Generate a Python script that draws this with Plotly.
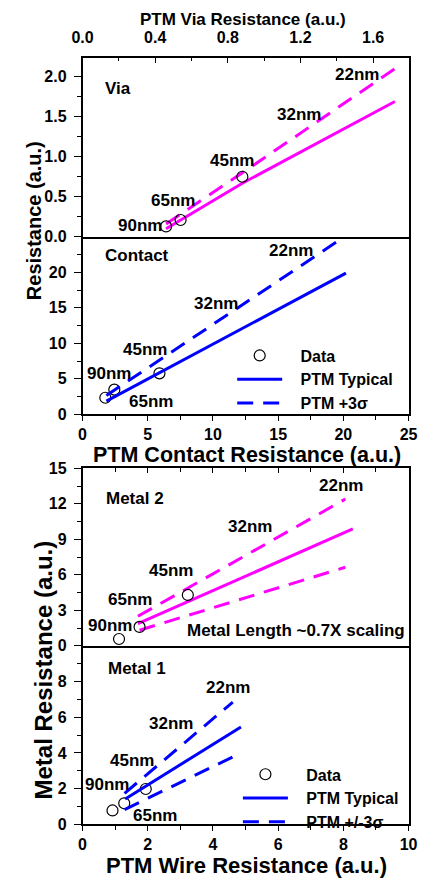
import plotly.graph_objects as go

W, H = 429, 888

# ---------------- data ----------------
via_data_x = [0.46, 0.54, 0.88]
via_data_y = [0.13, 0.21, 0.75]
via_typ_x = [0.46, 0.88, 1.72]
via_typ_y = [0.10, 0.67, 1.69]
via_3s_x = [0.46, 0.88, 1.72]
via_3s_y = [0.16, 0.80, 2.10]

contact_data_x = [1.75, 2.44, 5.9]
contact_data_y = [2.34, 3.48, 5.78]
contact_typ_x = [1.83, 20.2]
contact_typ_y = [1.87, 19.9]
contact_3s_x = [1.83, 19.5]
contact_3s_y = [2.66, 24.3]

m2_data_x = [1.12, 1.75, 3.23]
m2_data_y = [0.58, 1.60, 4.30]
m2_typ_x = [1.70, 8.29]
m2_typ_y = [1.87, 9.88]
m2_hi_x = [1.70, 8.06]
m2_hi_y = [2.50, 12.4]
m2_lo_x = [1.75, 8.06]
m2_lo_y = [1.32, 6.64]

m1_data_x = [0.92, 1.28, 1.94]
m1_data_y = [0.78, 1.18, 1.98]
m1_typ_x = [1.31, 4.86]
m1_typ_y = [1.42, 5.46]
m1_hi_x = [1.29, 4.61]
m1_hi_y = [1.74, 6.85]
m1_lo_x = [1.29, 4.61]
m1_lo_y = [0.83, 3.78]

via_ticks = [0.0, 0.4, 0.8, 1.2, 1.6]
via_ticktext = ["0.0", "0.4", "0.8", "1.2", "1.6"]
via_yticks = [0.0, 0.5, 1.0, 1.5, 2.0]
via_yticktext = ["0.0", "0.5", "1.0", "1.5", "2.0"]
contact_xticks = [0, 5, 10, 15, 20, 25]
contact_yticks = [0, 5, 10, 15, 20]
wire_xticks = [0, 2, 4, 6, 8, 10]
m2_yticks = [0, 3, 6, 9, 12, 15]
m1_yticks = [0, 2, 4, 6, 8]

legend_top_names = ["Data", "PTM Typical", "PTM +3σ"]
legend_bot_names = ["Data", "PTM Typical", "PTM +/-3σ"]

# labels: (text, left px, center px)
labels = [
    ("Via", 97, 82), ("22nm", 338, 68), ("32nm", 277, 109), ("45nm", 207, 155),
    ("65nm", 145, 196), ("90nm", 110, 222),
    ("Contact", 97, 252), ("22nm", 268, 247), ("32nm", 190, 301), ("45nm", 115, 348),
    ("90nm", 78, 373), ("65nm", 122, 401),
    ("Metal 2", 98, 500), ("22nm", 321, 487), ("32nm", 225, 529), ("45nm", 143, 573),
    ("65nm", 100, 603), ("90nm", 79, 630), ("Metal Length ~0.7X scaling", 182, 635),
    ("Metal 1", 100, 673), ("22nm", 202, 693), ("32nm", 143, 729), ("45nm", 102, 767),
    ("90nm", 75, 792), ("65nm", 126, 823),
]

MAG = "#FF00FF"
BLU = "#0000FF"
DASH = "16px,10px"
FONT = "Liberation Sans, Arial, sans-serif"
PAD = "\u00a0\u00a0\u00a0"

X0, X1 = 75, 417
VIA_TOP, VIA_BOT, CON_BOT = 51, 233.3, 414.3
M2_TOP, M2_BOT, M1_BOT = 469.3, 650.3, 832.3


def xd(px):
    return px / W


def yd(py):
    return 1 - py / H


fig = go.Figure()


def data_trace(x, y, xa, ya, name=None, legend=None):
    fig.add_trace(go.Scatter(
        x=x, y=y, xaxis=xa, yaxis=ya, mode="markers", name=name or "Data",
        marker=dict(symbol="circle-open", size=11, color="black", line=dict(width=1.2, color="black")),
        showlegend=legend is not None, legend=legend or "legend"))


def line_trace(x, y, xa, ya, color, dash=None, name=None, legend=None):
    fig.add_trace(go.Scatter(
        x=x, y=y, xaxis=xa, yaxis=ya, mode="lines", name=name or "",
        line=dict(color=color, width=3, dash=dash or "solid"),
        showlegend=legend is not None, legend=legend or "legend"))


# via (x2, y3)
line_trace(via_typ_x, via_typ_y, "x2", "y3", MAG)
line_trace(via_3s_x, via_3s_y, "x2", "y3", MAG, DASH)
data_trace(via_data_x, via_data_y, "x2", "y3")
# contact (x, y)
data_trace(contact_data_x, contact_data_y, "x", "y", PAD + legend_top_names[0], "legend")
line_trace(contact_typ_x, contact_typ_y, "x", "y", BLU, None, PAD + legend_top_names[1], "legend")
line_trace(contact_3s_x, contact_3s_y, "x", "y", BLU, DASH, PAD + legend_top_names[2], "legend")
# metal 2 (x5, y7)
line_trace(m2_typ_x, m2_typ_y, "x5", "y7", MAG)
line_trace(m2_hi_x, m2_hi_y, "x5", "y7", MAG, DASH)
line_trace(m2_lo_x, m2_lo_y, "x5", "y7", MAG, DASH)
data_trace(m2_data_x, m2_data_y, "x5", "y7")
# metal 1 (x4, y5)
data_trace(m1_data_x, m1_data_y, "x4", "y5", PAD + legend_bot_names[0], "legend2")
line_trace(m1_typ_x, m1_typ_y, "x4", "y5", BLU, None, PAD + legend_bot_names[1], "legend2")
line_trace(m1_hi_x, m1_hi_y, "x4", "y5", BLU, DASH, PAD + legend_bot_names[2], "legend2")
line_trace(m1_lo_x, m1_lo_y, "x4", "y5", BLU, DASH)

tickfont = dict(family=FONT, size=16, color="black", weight="bold")
base = dict(showgrid=False, zeroline=False, linecolor="black", linewidth=1.5,
            tickcolor="black", tickwidth=1.3, tickfont=tickfont)
XDOM = [xd(X0), xd(X1)]


def minor(step, ticks, length=3.5):
    return dict(dtick=step, tick0=0, ticks=ticks, ticklen=length, tickcolor="black", tickwidth=1.1)


layout_axes = dict(
    # contact
    xaxis=dict(base, domain=XDOM, anchor="y", range=[0, 25], side="bottom", showline=True, mirror=False,
               ticks="outside", ticklen=5, tickvals=contact_xticks, minor=minor(2.5, "outside")),
    yaxis=dict(base, domain=[yd(CON_BOT), yd(VIA_BOT)], anchor="x", range=[0, 25], showline=True, mirror=True,
               ticks="outside", ticklen=7, tickvals=contact_yticks, minor=minor(2.5, "outside", 4),
               ticklabelstandoff=4),
    yaxis2=dict(base, overlaying="y", anchor="x", side="right", range=[0, 25], showline=False,
                ticks="inside", ticklen=5, tickvals=contact_xticks, showticklabels=False,
                minor=minor(2.5, "inside")),
    xaxis3=dict(base, overlaying="x", anchor="y", side="top", range=[0, 25], showline=False,
                ticks="inside", ticklen=3, tickvals=[2.5, 7.5, 12.5, 17.5, 22.5], showticklabels=False),
    # via
    xaxis2=dict(base, domain=XDOM, anchor="y3", range=[0, 1.795], side="top", showline=True, mirror=True,
                ticks="inside", ticklen=5, tickvals=via_ticks, ticktext=via_ticktext,
                minor=minor(0.2, "inside"), ticklabelstandoff=7),
    yaxis3=dict(base, domain=[yd(VIA_BOT), yd(VIA_TOP)], anchor="x2", range=[0, 2.233], showline=True,
                mirror=True, ticks="outside", ticklen=7, tickvals=via_yticks, ticktext=via_yticktext,
                minor=minor(0.25, "outside", 4), ticklabelstandoff=4),
    yaxis4=dict(base, overlaying="y3", anchor="x2", side="right", range=[0, 2.233], showline=False,
                ticks="inside", ticklen=5, tickvals=via_yticks, showticklabels=False,
                minor=minor(0.25, "inside")),
    # metal 1
    xaxis4=dict(base, domain=XDOM, anchor="y5", range=[0, 10], side="bottom", showline=True, mirror=False,
                ticks="outside", ticklen=5, tickvals=wire_xticks, minor=minor(1, "outside")),
    yaxis5=dict(base, domain=[yd(M1_BOT), yd(M2_BOT)], anchor="x4", range=[0, 10], showline=True, mirror=True,
                ticks="outside", ticklen=7, tickvals=m1_yticks, minor=minor(1, "outside", 4),
                ticklabelstandoff=4),
    yaxis6=dict(base, overlaying="y5", anchor="x4", side="right", range=[0, 10], showline=False,
                ticks="inside", ticklen=5, tickvals=m1_yticks + [10], showticklabels=False,
                minor=minor(1, "inside")),
    xaxis6=dict(base, overlaying="x4", anchor="y5", side="top", range=[0, 10], showline=False,
                ticks="inside", ticklen=3, tickvals=[1, 3, 5, 7, 8, 9], showticklabels=False),
    # metal 2
    xaxis5=dict(base, domain=XDOM, anchor="y7", range=[0, 10], side="top", showline=True, mirror=True,
                ticks="inside", ticklen=5, tickvals=wire_xticks, showticklabels=False,
                minor=minor(1, "inside")),
    yaxis7=dict(base, domain=[yd(M2_BOT), yd(M2_TOP)], anchor="x5", range=[0, 15], showline=True, mirror=True,
                ticks="outside", ticklen=7, tickvals=m2_yticks, minor=minor(1.5, "outside", 4),
                ticklabelstandoff=4),
    yaxis8=dict(base, overlaying="y7", anchor="x5", side="right", range=[0, 15], showline=False,
                ticks="inside", ticklen=5, tickvals=m2_yticks, showticklabels=False,
                minor=minor(1.5, "inside")),
)

annotations = []
for text, left, cy in labels:
    annotations.append(dict(text=text, x=xd(left), y=yd(cy), xref="paper", yref="paper",
                            xanchor="left", yanchor="middle", showarrow=False,
                            font=dict(family=FONT, size=17, color="black", weight="bold")))

titles = [
    ("PTM Via Resistance (a.u.)", 243, 11.5, 17, 0),
    ("PTM Contact Resistance (a.u.)", 247.5, 456, 21.5, 0),
    ("PTM Wire Resistance (a.u.)", 247.5, 874, 22, 0),
    ("Resistance (a.u.)", 25, 216.5, 20, -90),
    ("Metal Resistance (a.u.)", 34, 675, 24, -90),
]
for text, cx, cy, size, ang in titles:
    annotations.append(dict(text=text, x=xd(cx), y=yd(cy), xref="paper", yref="paper",
                            xanchor="center", yanchor="middle", showarrow=False, textangle=ang,
                            font=dict(family=FONT, size=size, color="black", weight="bold")))

fig.update_layout(
    width=W, height=H, margin=dict(l=0, r=0, t=0, b=0),
    paper_bgcolor="white", plot_bgcolor="rgba(0,0,0,0)",
    font=dict(family=FONT, color="black"),
    annotations=annotations,
    legend=dict(x=xd(232), y=yd(337), xanchor="left", yanchor="top", bgcolor="rgba(0,0,0,0)",
                font=dict(family=FONT, size=16, color="black", weight="bold"), itemwidth=45,
                tracegroupgap=0),
    legend2=dict(x=xd(238), y=yd(764), xanchor="left", yanchor="top", bgcolor="rgba(0,0,0,0)",
                 font=dict(family=FONT, size=16, color="black", weight="bold"), itemwidth=45,
                 tracegroupgap=0),
    **layout_axes,
)

fig.write_html("out.html")
